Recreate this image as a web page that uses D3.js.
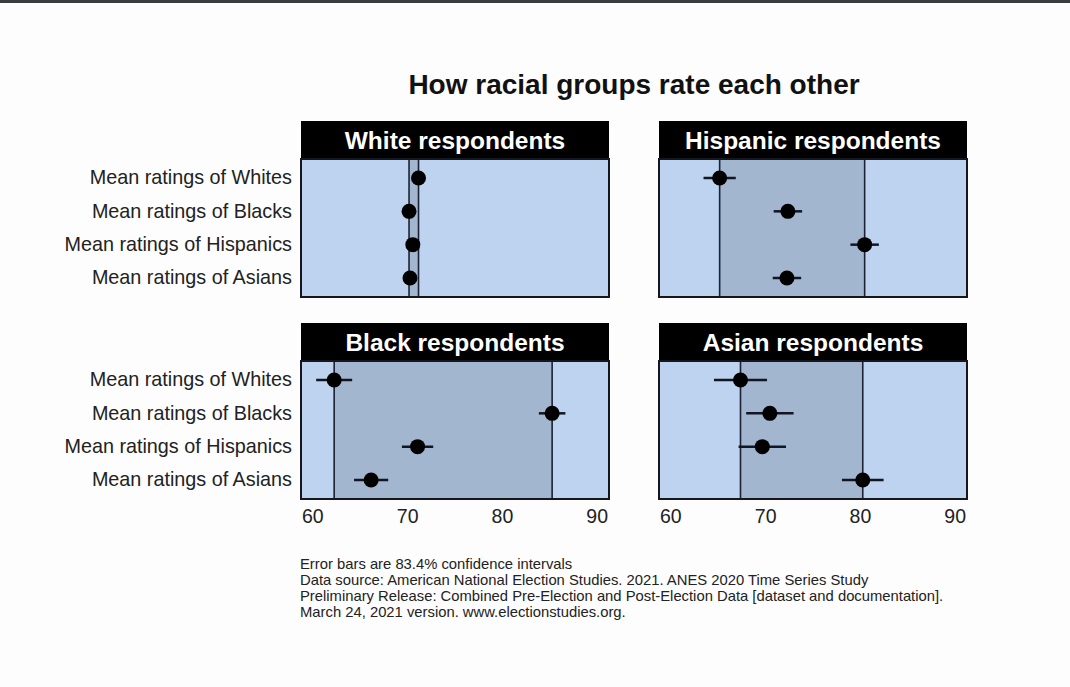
<!DOCTYPE html>
<html>
<head>
  <meta charset="utf-8">
  <title>How racial groups rate each other</title>
  <style>
   html, body { margin: 0; padding: 0; background: #fdfdfd; }
   svg { display: block; }
   text { font-family: "Liberation Sans", Arial, sans-serif; }
  </style>
</head>
<body>
  <div id="chart"></div>
  <script src="https://d3js.org/d3.v7.min.js"></script>
  <script>
// data
var panels = ["White respondents", "Hispanic respondents", "Black respondents", "Asian respondents"];
var targets = ["Mean ratings of Whites", "Mean ratings of Blacks", "Mean ratings of Hispanics", "Mean ratings of Asians"];
// mean rating, one row per panel, in target order
var means = [
  [71.2, 70.2, 70.6, 70.3],
  [65.2, 72.4, 80.5, 72.3],
  [62.3, 85.3, 71.1, 66.2],
  [67.4, 70.5, 69.7, 80.3]
];
// half width of the 83.4% intervals
var halfWidths = [
  [0.3, 0.3, 0.3, 0.3],
  [1.7, 1.5, 1.5, 1.5],
  [1.9, 1.4, 1.65, 1.8],
  [2.8, 2.5, 2.5, 2.2]
];
var xTicks = [60, 70, 80, 90];
var footnote = [
  "Error bars are 83.4% confidence intervals",
  "Data source: American National Election Studies. 2021. ANES 2020 Time Series Study",
  "Preliminary Release: Combined Pre-Election and Post-Election Data [dataset and documentation].",
  "March 24, 2021 version. www.electionstudies.org."
];

var width = 1070, height = 687;

var svg = d3.select("#chart")
  .append("svg")
  .attr("width", width)
  .attr("height", height);

// thin dark band along the top edge of the screenshot
svg.append("rect").attr("x", 0).attr("y", 0).attr("width", width).attr("height", 3).attr("fill", "#3a3d40");

svg.append("text")
  .attr("x", 634)
  .attr("y", 94)
  .attr("text-anchor", "middle")
  .attr("font-size", "28px")
  .attr("font-weight", "bold")
  .attr("fill", "#111")
  .text("How racial groups rate each other");

var colX = [301, 659];
var rowY = [121, 323];
var panelW = 308, stripH = 38, plotH = 138;

var x0 = d3.scaleLinear().domain([58.8, 91.3]).range([0, panelW]);
var y = d3.scaleBand().domain(targets).range([0, plotH]).paddingOuter(0.07).paddingInner(0);

panels.forEach(function(name, p) {
  var col = p % 2, row = Math.floor(p / 2);
  var g = svg.append("g").attr("transform", "translate(" + colX[col] + "," + rowY[row] + ")");

  // strip
  g.append("rect")
    .attr("width", panelW).attr("height", stripH)
    .attr("fill", "#000");
  g.append("text")
    .attr("x", panelW / 2).attr("y", stripH / 2 + 8.5)
    .attr("text-anchor", "middle")
    .attr("font-size", "24.5px").attr("font-weight", "bold")
    .attr("fill", "#fff")
    .text(name);

  var plot = g.append("g").attr("transform", "translate(0," + stripH + ")");
  plot.append("rect")
    .attr("width", panelW).attr("height", plotH)
    .attr("fill", "#bdd3ef");

  var lo = d3.min(means[p]), hi = d3.max(means[p]);
  plot.append("rect")
    .attr("x", x0(lo)).attr("width", x0(hi) - x0(lo))
    .attr("height", plotH)
    .attr("fill", "#a3b6cf");
  plot.selectAll(".range-line")
    .data([lo, hi])
    .enter().append("line")
    .attr("class", "range-line")
    .attr("x1", function(d) { return x0(d); })
    .attr("x2", function(d) { return x0(d); })
    .attr("y1", 0).attr("y2", plotH)
    .attr("stroke", "#1c2233").attr("stroke-width", 1.6);

  var rows = targets.map(function(t, i) {
    return { target: t, mean: means[p][i], hw: halfWidths[p][i] };
  });

  plot.selectAll(".err")
    .data(rows)
    .enter().append("line")
    .attr("class", "err")
    .attr("x1", function(d) { return x0(d.mean - d.hw); })
    .attr("x2", function(d) { return x0(d.mean + d.hw); })
    .attr("y1", function(d) { return y(d.target) + y.bandwidth() / 2; })
    .attr("y2", function(d) { return y(d.target) + y.bandwidth() / 2; })
    .attr("stroke", "#111622").attr("stroke-width", 2.5);

  plot.selectAll(".dot")
    .data(rows)
    .enter().append("circle")
    .attr("class", "dot")
    .attr("cx", function(d) { return x0(d.mean); })
    .attr("cy", function(d) { return y(d.target) + y.bandwidth() / 2; })
    .attr("r", 7.5)
    .attr("fill", "#000");

  plot.append("rect")
    .attr("width", panelW).attr("height", plotH)
    .attr("fill", "none")
    .attr("stroke", "#15171c").attr("stroke-width", 2);

  // y labels only for the left column
  if (col === 0) {
    var yAxis = plot.append("g")
      .call(d3.axisLeft(y).tickSize(0).tickPadding(9));
    yAxis.select(".domain").remove();
    yAxis.selectAll("text")
      .attr("font-size", "19.8px")
      .attr("fill", "#222")
      .style("font-family", "'Liberation Sans', Arial, sans-serif");
  }

  // x axis only for the bottom row
  if (row === 1) {
    var xAxis = plot.append("g")
      .attr("transform", "translate(0," + plotH + ")")
      .call(d3.axisBottom(x0).tickValues(xTicks).tickSize(0).tickPadding(10));
    xAxis.select(".domain").remove();
    xAxis.selectAll("text")
      .attr("font-size", "19.5px")
      .attr("fill", "#222")
      .style("font-family", "'Liberation Sans', Arial, sans-serif");
  }
});

svg.append("g")
  .selectAll("text")
  .data(footnote)
  .enter().append("text")
  .attr("x", 300)
  .attr("y", function(d, i) { return 569 + i * 16; })
  .attr("font-size", "14.8px")
  .attr("fill", "#222")
  .text(function(d) { return d; });
  </script>
</body>
</html>
